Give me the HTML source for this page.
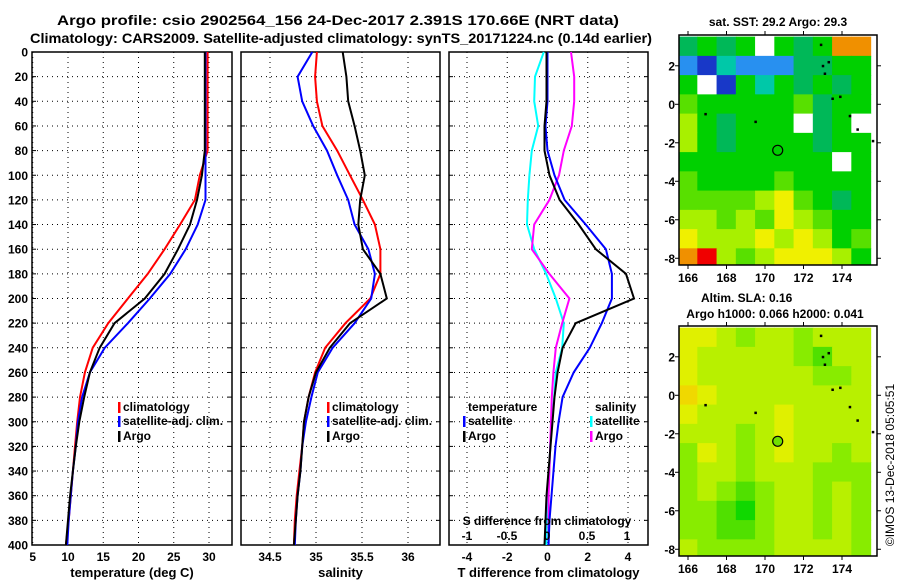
<!DOCTYPE html>
<html><head><meta charset="utf-8"><style>
html,body{margin:0;padding:0;background:#fff;}
svg{display:block;font-family:"Liberation Sans",sans-serif;}
.b{font-weight:bold;}
</style></head><body>
<svg id="fig" width="900" height="580" viewBox="0 0 900 580" xmlns="http://www.w3.org/2000/svg">
<text class="b" x="57" y="25" font-size="14" textLength="562" lengthAdjust="spacingAndGlyphs">Argo profile: csio 2902564_156 24-Dec-2017 2.391S 170.66E (NRT data)</text>
<text class="b" x="30" y="43" font-size="14" textLength="622" lengthAdjust="spacingAndGlyphs">Climatology: CARS2009. Satellite-adjusted climatology: synTS_20171224.nc (0.14d earlier)</text>
<g id="g"></g>
</svg>
<script>
// ---------- data ----------
const depths = [0,20,40,60,80,100,120,140,160,180,200,220,240,260,280,300,320,340,360,380,400];
const tempClim = [29.8,29.8,29.8,29.8,29.8,28.7,28.0,25.9,23.7,21.3,18.5,15.7,13.5,12.4,11.7,11.3,11.0,10.7,10.4,10.1,9.7];
const tempSat  = [29.5,29.5,29.5,29.5,29.5,29.5,29.5,28.4,26.7,24.5,21.6,18.5,15.2,13.1,12.0,11.4,11.1,10.7,10.4,10.1,9.9];
const tempArgo = [29.4,29.4,29.4,29.4,29.4,29.0,28.3,27.3,25.6,23.7,20.9,16.6,14.5,13.1,12.3,11.6,11.1,10.7,10.3,10.0,9.7];
const salClim = [35.01,34.99,35.01,35.07,35.23,35.37,35.51,35.64,35.70,35.70,35.59,35.32,35.10,34.99,34.92,34.87,34.85,34.82,34.79,34.77,34.76];
const salSat  = [34.96,34.80,34.85,34.97,35.12,35.23,35.35,35.42,35.57,35.64,35.60,35.42,35.18,35.02,34.95,34.89,34.85,34.83,34.80,34.78,34.77];
const salArgo = [35.29,35.33,35.35,35.42,35.48,35.53,35.48,35.46,35.51,35.70,35.77,35.37,35.15,35.00,34.92,34.87,34.85,34.83,34.80,34.78,34.76];
const dTsat  = [0,0,0,-0.1,0,0.35,0.85,1.9,2.9,3.2,3.2,2.7,2.1,1.3,0.75,0.55,0.4,0.3,0.2,0.1,0.05];
const dTargo = [-0.05,-0.05,-0.05,-0.15,-0.15,0.1,0.6,1.55,2.4,3.9,4.3,1.4,0.75,0.5,0.35,0.25,0.15,0.05,-0.05,-0.1,-0.15];
const dSsat  = [-0.04,-0.15,-0.16,-0.11,-0.19,-0.22,-0.24,-0.25,-0.16,-0.01,0.11,0.21,0.19,0.11,0.09,0.06,0.04,0.03,0.01,0,-0.01];
const dSargo = [0.30,0.34,0.34,0.31,0.21,0.15,0.03,-0.16,-0.19,0.03,0.28,0.19,0.11,0.08,0.06,0.05,0.04,0.03,0.02,0.02,0.02];
const depthTicks = [0,20,40,60,80,100,120,140,160,180,200,220,240,260,280,300,320,340,360,380,400];
const tTicks = [5,10,15,20,25,30];
const sTicks = [34.5,35,35.5,36];
const dTTicks = [-4,-2,0,2,4];
const dSTicks = [-1,-0.5,0,0.5,1];
const dSTickLabels = ["-1","-0.5","0","0.5","1"];
const mapLons = [166,168,170,172,174];
const mapLats = [2,0,-2,-4,-6,-8];
const sstRows = ["3434w43488","1021113344","4w04243434","5444445344","643444w34w","6434444344","44444444w4","5444454444","5555675434","6656576544","7666767645","8965677764"];
const slaRows = ["7765665666","7666665466","7666666556","8766666666","7666676666","6665676666","5765676656","5665666555","5654566565","5543566565","5544566565","6555566665"];
const argoLon = 170.66, argoLat = -2.39;
// ---------- drawing ----------
const NS="http://www.w3.org/2000/svg";
const G=document.getElementById('g');
function mk(tag,attrs,parent){const e=document.createElementNS(NS,tag);for(const k in attrs)e.setAttribute(k,attrs[k]);(parent||G).appendChild(e);return e;}
function txt(s,attrs,parent){const e=mk('text',attrs,parent);e.textContent=s;return e;}
const yTop=52,yBot=545;
const yD=d=>yTop+(d/400)*(yBot-yTop);
function linX(v0,p0,v1,p1){return v=>p0+(v-v0)*(p1-p0)/(v1-v0);}
const panels=[
 {x0:32,x1:232,sx:linX(10,68,30,209),ticks:tTicks,lab:tTicks.map(String),title:"temperature (deg C)",name:"temperature"},
 {x0:241,x1:440,sx:linX(34.5,270,36,408),ticks:sTicks,lab:sTicks.map(String),title:"salinity",name:"salinity"},
 {x0:449,x1:648,sx:linX(-4,467,4,628),ticks:dTTicks,lab:dTTicks.map(String),title:"T difference from climatology",name:"difference"}
];
panels.forEach((p,pi)=>{
 const pg=mk('g',{});
 
 
 depthTicks.forEach(d=>{ if(d>0&&d<400){const l=mk('line',{x1:p.x0,x2:p.x1,y1:yD(d),y2:yD(d),stroke:'#000','stroke-width':1,'stroke-dasharray':'1,4'},pg);
   }
   mk('line',{x1:p.x0,x2:p.x0+4,y1:yD(d),y2:yD(d),stroke:'#000'},pg);mk('line',{x1:p.x1-4,x2:p.x1,y1:yD(d),y2:yD(d),stroke:'#000'},pg);});
 p.ticks.forEach((t,i)=>{const x=p.sx(t);
   const l=mk('line',{x1:x,x2:x,y1:yTop,y2:yBot,stroke:'#000','stroke-dasharray':'1,4'},pg);
   
   const tl=txt(p.lab[i],{x:x,y:561,'font-size':12,'text-anchor':'middle',class:'b'},pg);
   });
 const fr=mk('rect',{x:p.x0,y:yTop,width:p.x1-p.x0,height:yBot-yTop,fill:'none',stroke:'#000','stroke-width':1.5},pg);
 
 const at=txt(p.title,{x:(p.x0+p.x1)/2,y:577,'font-size':13,'text-anchor':'middle',class:'b'},pg);
 
 p.g=pg;
});
depthTicks.forEach(d=>{const t=txt(String(d),{x:28,y:yD(d)+4.5,'font-size':12,'text-anchor':'end',class:'b'});
 });
function line(vals,sx,color,name,parent){
 const pts=vals.map((v,i)=>sx(v).toFixed(1)+','+yD(depths[i]).toFixed(1)).join(' ');
 const e=mk('polyline',{points:pts,fill:'none',stroke:color,'stroke-width':2},parent);
 
 
}
const P=panels;
line(tempClim,P[0].sx,'#f00','temp-climatology-line',P[0].g);
line(tempSat,P[0].sx,'#00f','temp-satellite-line',P[0].g);
line(tempArgo,P[0].sx,'#000','temp-argo-line',P[0].g);
line(salClim,P[1].sx,'#f00','sal-climatology-line',P[1].g);
line(salSat,P[1].sx,'#00f','sal-satellite-line',P[1].g);
line(salArgo,P[1].sx,'#000','sal-argo-line',P[1].g);
const sxS=linX(-1,467,1,627);
line(dSsat,sxS,'#0ff','dS-satellite-line',P[2].g);
line(dSargo,sxS,'#f0f','dS-argo-line',P[2].g);
line(dTsat,P[2].sx,'#00f','dT-satellite-line',P[2].g);
line(dTargo,P[2].sx,'#000','dT-argo-line',P[2].g);
dSTicks.forEach((t,i)=>{const e=txt(dSTickLabels[i],{x:sxS(t),y:540,'font-size':12,'text-anchor':'middle',class:'b'},P[2].g);
 });
{const e=txt('S difference from climatology',{x:547,y:525,'font-size':12,'text-anchor':'middle',class:'b'},P[2].g);
 }
function legend(x,y,color,label,parent,noTick){
 const lg=mk('g',{},parent);
 
 
 if(!noTick)mk('rect',{x:x,y:y-9,width:2.5,height:11,fill:color},lg);
 txt(label,{x:x+5,y:y,'font-size':12,class:'b'},lg);
}
[[P[0].g,118],[P[1].g,327]].forEach(([pg,x])=>{
 legend(x,411,'#f00','climatology',pg);legend(x,425,'#00f','satellite-adj. clim.',pg);legend(x,440,'#000','Argo',pg);});
legend(463,411,'#000','temperature',P[2].g,true);
legend(463,425,'#00f','satellite',P[2].g);legend(463,440,'#000','Argo',P[2].g);
legend(590,411,'#000','salinity',P[2].g,true);
legend(590,425,'#0ff','satellite',P[2].g);legend(590,440,'#f0f','Argo',P[2].g);
// ---------- maps ----------
const sstPal={'0':'#1838c8','1':'#2890f0','2':'#00c8a8','3':'#00b858','4':'#00d000','5':'#58e000','6':'#a8f000','7':'#f0f000','8':'#f09000','9':'#f00000','w':'#ffffff'};
const slaPal={'3':'#10d800','4':'#50e000','5':'#88ec00','6':'#b8f000','7':'#e0f000','8':'#f0d800'};
function drawMap(y0,y1,rows,pal,name,filledMarker){
 const x0=679,x1=877;
 const mx=linX(166,688,174,842);
 const latTop=3.6, latBot=-8.35;
 const ly=v=>y0+(latTop-v)/(latTop-latBot)*(y1-y0);
 const mg=mk('g',{});
 
 
 const clip='c'+name;
 const cp=mk('clipPath',{id:clip},mg);mk('rect',{x:x0,y:y0,width:x1-x0,height:y1-y0},cp);
 const cg=mk('g',{'clip-path':'url(#'+clip+')'},mg);
 rows.forEach((r,ri)=>{const lat=3-ri;
  r.split('').forEach((c,ci)=>{const lon=166+ci;
   const cell=mk('rect',{x:mx(lon-0.5)-0.3,y:ly(lat+0.5)-0.3,width:mx(lon+0.5)-mx(lon-0.5)+0.6,height:ly(lat-0.5)-ly(lat+0.5)+0.6,fill:pal[c]},cg);
   
   });});
 [[172.9,3.1],[173.0,2.0],[173.1,1.6],[173.3,2.2],[173.5,0.3],[173.9,0.4],[174.4,-0.6],[174.8,-1.3],[175.6,-1.9],[169.5,-0.9],[166.9,-0.5]].forEach(([lo,la])=>{
  const isl=mk('rect',{x:mx(lo)-1,y:ly(la)-1,width:2.5,height:2.5,fill:'#000'},cg);
  });
 const m=mk('circle',{cx:mx(argoLon),cy:ly(argoLat),r:5,fill:filledMarker?'#70e000':'none',stroke:'#000','stroke-width':1.2},mg);
 
 mk('rect',{x:x0,y:y0,width:x1-x0,height:y1-y0,fill:'none',stroke:'#000','stroke-width':1.5},mg);
 mapLons.forEach(lo=>{const x=mx(lo);mk('line',{x1:x,x2:x,y1:y0-4,y2:y0,stroke:'#000'},mg);mk('line',{x1:x,x2:x,y1:y1,y2:y1+4,stroke:'#000'},mg);
  const t=txt(String(lo),{x:x,y:y1+17,'font-size':12,'text-anchor':'middle',class:'b'},mg);
  });
 mapLats.forEach(la=>{const y=ly(la);mk('line',{x1:x0-4,x2:x0,y1:y,y2:y,stroke:'#000'},mg);mk('line',{x1:x1,x2:x1+4,y1:y,y2:y,stroke:'#000'},mg);
  const t=txt(String(la),{x:675,y:y+4.5,'font-size':12,'text-anchor':'end',class:'b'},mg);
  });
}
drawMap(35,265,sstRows,sstPal,'sst-map',false);
drawMap(326,556,slaRows,slaPal,'sla-map',true);
{let e=txt('sat. SST: 29.2 Argo: 29.3',{x:778,y:26,'font-size':12,'text-anchor':'middle',class:'b'});
 e=txt('Altim. SLA: 0.16',{x:701,y:302,'font-size':12,class:'b'});
 e=txt('Argo h1000: 0.066 h2000: 0.041',{x:775,y:318,'font-size':12,'text-anchor':'middle',class:'b'});
 e=txt('©IMOS 13-Dec-2018 05:05:51',{x:0,y:0,'font-size':12,'text-anchor':'middle',transform:'translate(894,465) rotate(-90)'});}
</script>
</body></html>
